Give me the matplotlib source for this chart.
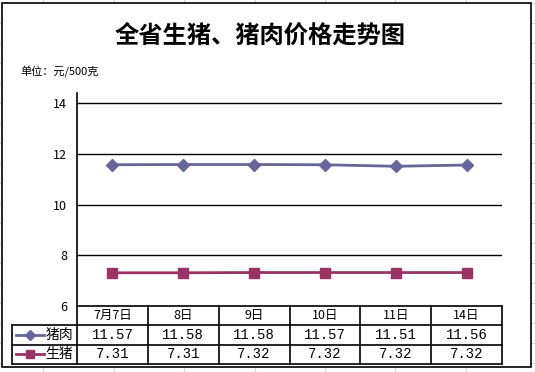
import matplotlib
matplotlib.use("Agg")
import matplotlib.pyplot as plt
from matplotlib.lines import Line2D
from matplotlib.patches import Rectangle

plt.rcParams['font.family'] = ['Noto Sans CJK SC', 'DejaVu Sans']

# data
dates = ["7月7日", "8日", "9日", "10日", "11日", "14日"]
pork = [11.57, 11.58, 11.58, 11.57, 11.51, 11.56]
hog = [7.31, 7.31, 7.32, 7.32, 7.32, 7.32]
series_names = ["猪肉", "生猪"]
yticks = [6, 8, 10, 12, 14]

W, H = 535, 372
fig = plt.figure(figsize=(W / 100, H / 100), dpi=100)


def fx(px):
    return px / W


def fy(py):
    return 1 - py / H


# spreadsheet grid behind the chart
for gx in [43, 114, 184, 255, 325, 395, 466]:
    fig.add_artist(Line2D([fx(gx), fx(gx)], [0, 1], color="#d4d4d4", lw=0.8, zorder=0))
for gy in range(3, 372, 20):
    fig.add_artist(Line2D([0, 1], [fy(gy), fy(gy)], color="#d4d4d4", lw=0.8, zorder=0))

# chart area
fig.add_artist(Rectangle((fx(2), fy(367)), fx(529), 364 / H, facecolor="white",
                         edgecolor="black", lw=1.2, zorder=0.5, transform=fig.transFigure))

fig.text(fx(260), fy(36), "全省生猪、猪肉价格走势图", ha="center", va="center",
         fontsize=17.5, fontweight="bold", zorder=2)
fig.text(fx(20), fy(72), "单位：元/500克", ha="left", va="center", fontsize=8, zorder=2)

# plot area
left, right, top, bottom = 77, 502, 93, 306
ax = fig.add_axes([fx(left), fy(bottom), fx(right - left), (bottom - top) / H], zorder=2)
ax.patch.set_alpha(0)
x = list(range(len(dates)))
ax.plot(x, pork, color="#666699", lw=2, marker="D", markersize=6.5, clip_on=False)
ax.plot(x, hog, color="#993366", lw=2, marker="s", markersize=7.5, clip_on=False)
ax.set_xlim(-0.5, len(dates) - 0.5)
ax.set_ylim(6, 14.4)
ax.set_yticks(yticks)
for t in yticks[1:]:
    ax.axhline(t, color="black", lw=1, zorder=0)
ax.tick_params(axis="y", length=0, pad=7, labelsize=9)
ax.set_xticks([])
for s in ["top", "right", "bottom"]:
    ax.spines[s].set_visible(False)
ax.spines["left"].set_linewidth(1.2)

# data table below
tleft, tbottom = 12, 364
colw = (right - left) / len(dates)
tab = fig.add_axes([fx(tleft), fy(tbottom), fx(right - tleft), (tbottom - bottom) / H], zorder=2)
tab.set_xlim(-0.5 - (left - tleft) / colw, len(dates) - 0.5)
tab.set_ylim(3, 0)
tab.axis("off")
lk = dict(color="black", lw=1.2, clip_on=False)
x0 = -0.5 - (left - tleft) / colw
# horizontal lines
tab.plot([-0.5, len(dates) - 0.5], [0, 0], **lk)
for r in [1, 2, 3]:
    tab.plot([x0, len(dates) - 0.5], [r, r], **lk)
# vertical lines
tab.plot([x0, x0], [1, 3], **lk)
for c in range(len(dates) + 1):
    tab.plot([c - 0.5, c - 0.5], [0, 3], **lk)

mono = ["Liberation Mono", "DejaVu Sans Mono"]
for i, d in enumerate(dates):
    tab.text(i, 0.5, d, ha="center", va="center", fontsize=9)
    tab.text(i, 1.5, f"{pork[i]:.2f}", ha="center", va="center", fontsize=10, family=mono)
    tab.text(i, 2.5, f"{hog[i]:.2f}", ha="center", va="center", fontsize=10, family=mono)

# legend keys in table
keys = [("#666699", "D", 5), ("#993366", "s", 6)]
for r, (name, (col, mk, ms)) in enumerate(zip(series_names, keys)):
    tab.plot([x0 + 0.05, x0 + 0.45], [r + 1.5, r + 1.5], color=col, lw=2)
    tab.plot([x0 + 0.25], [r + 1.5], color=col, marker=mk, markersize=ms)
    tab.text(x0 + 0.47, r + 1.5, name, ha="left", va="center", fontsize=10)

fig.savefig("out.png", dpi=100)
